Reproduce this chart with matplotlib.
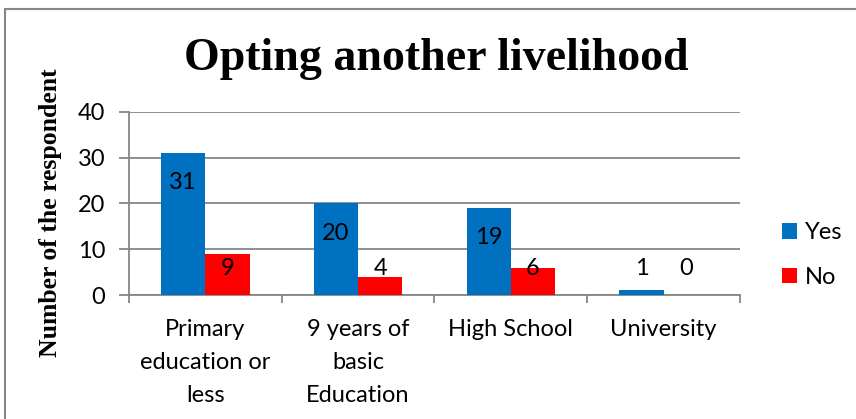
import matplotlib.pyplot as plt
import numpy as np
from matplotlib.patches import Rectangle

categories = ['Primary\neducation or\nless', '9 years of\nbasic\nEducation', 'High School', 'University']
yes = [31, 20, 19, 1]
no = [9, 4, 6, 0]

BLUE = '#0070C0'
RED = '#FF0000'
GRAY = '#868686'
SANS = ['Lato', 'DejaVu Sans']
SERIF = ['Liberation Serif', 'DejaVu Serif']
FS = 17

W, H = 856, 419
fig = plt.figure(figsize=(W / 100, H / 100), dpi=100)
ax = fig.add_axes([129 / W, 1 - 295 / H, (740 - 129) / W, (295 - 112) / H])

# outer chart frame (runs off the right and bottom edges)
fig.patches.append(Rectangle((5 / W, -0.2), 1.2, 1.2 - 9 / H, transform=fig.transFigure,
                             fill=False, edgecolor=GRAY, lw=1.5, zorder=0))

x = np.arange(len(categories))
bw = 0.29
b1 = ax.bar(x - bw / 2, yes, bw, color=BLUE, label='Yes', zorder=3)
b2 = ax.bar(x + bw / 2, no, bw, color=RED, label='No', zorder=3)

for bars, vals in ((b1, yes), (b2, no)):
    for rect, v in zip(bars, vals):
        ax.text(rect.get_x() + rect.get_width() / 2, max(v - 6.5, 5.7), str(v),
                ha='center', va='center', fontsize=FS, family=SANS, zorder=4)

ax.set_xlim(-0.5, len(categories) - 0.5)
ax.set_ylim(0, 40)
ax.set_yticks([0, 10, 20, 30, 40])
ax.yaxis.grid(True, color=GRAY, lw=1.3, zorder=0)
ax.set_axisbelow(True)

ax.set_xticks(x)
ax.set_xticklabels(categories, fontsize=FS, family=SANS, linespacing=1.72, va='top')
ax.set_xticks(np.arange(len(categories) + 1) - 0.5, minor=True)
ax.tick_params(axis='x', which='major', length=0, pad=17)
ax.tick_params(axis='x', which='minor', length=6, width=1.3, color=GRAY, direction='out')
ax.tick_params(axis='y', length=7, width=1.3, color=GRAY, pad=10, labelsize=FS)
for lab in ax.get_yticklabels():
    lab.set_family(SANS)

for side in ('top', 'right'):
    ax.spines[side].set_visible(False)
for side in ('left', 'bottom'):
    ax.spines[side].set_color(GRAY)
    ax.spines[side].set_linewidth(1.3)

fig.text(436 / W, 1 - 70 / H, 'Opting another livelihood', ha='center', va='baseline',
         fontsize=33, fontweight='bold', family=SERIF)
fig.text(51 / W, 1 - 213 / H, 'Number of the respondent', rotation=90, ha='center', va='center',
         fontsize=18.5, fontweight='bold', family=SERIF)

leg = ax.legend(loc='center left', bbox_to_anchor=(782 / W, 1 - 255 / H), bbox_transform=fig.transFigure,
                frameon=False, handlelength=0.64, handleheight=0.64, handletextpad=0.34,
                labelspacing=1.0, borderpad=0, borderaxespad=0, prop={'family': SANS, 'size': FS})

fig.savefig('out.png', dpi=100)
